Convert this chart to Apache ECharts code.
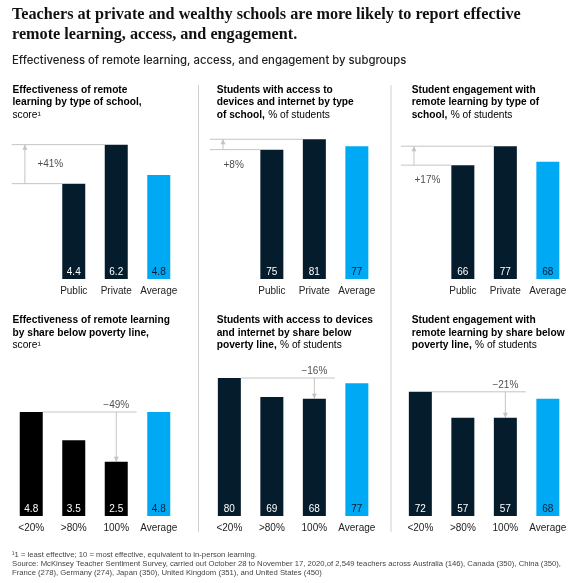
<!DOCTYPE html>
<html><head><meta charset="utf-8">
<script src="https://cdn.jsdelivr.net/npm/echarts@6/dist/echarts.min.js"></script>
<style>html,body{margin:0;padding:0;background:#fff}#c{width:574px;height:583px}</style>
</head><body><div id="c"></div>
<script>
// ---- data ----
const topCategories = ['Public', 'Private', 'Average'];
const bottomCategories = ['<20%', '>80%', '100%', 'Average'];
const effectivenessBySchool = [4.4, 6.2, 4.8];
const accessBySchool = [75, 81, 77];
const engagementBySchool = [66, 77, 68];
const effectivenessByPoverty = [4.8, 3.5, 2.5, 4.8];
const accessByPoverty = [80, 69, 68, 77];
const engagementByPoverty = [72, 57, 57, 68];
const changeLabels = ['+41%', '+8%', '+17%', '\u221249%', '\u221216%', '\u221221%'];
const scoreMax = 10;
const pctMax = 100;

// ---- styles ----
const NAVY = '#051c2c', BLUE = '#00a9f4', BLACK = '#000000', LINE = '#c4c4c4', TEXT = '#222222';
const SANS = '"Liberation Sans", Arial, sans-serif';
const colLeft = [10, 208.1, 399.1];
const rowBottom = [279, 516];
const panelW = 170;
const pxPerMax = { score: 216.7, pct: 172.5 };
const barW = 23;
const halfBar = 0.272;

const panels = [
  { row: 0, col: 0, cats: topCategories, values: effectivenessBySchool, max: scoreMax, kind: 'score', color: NAVY, change: changeLabels[0], textPos: 'between' },
  { row: 0, col: 1, cats: topCategories, values: accessBySchool, max: pctMax, kind: 'pct', color: NAVY, change: changeLabels[1], textPos: 'below' },
  { row: 0, col: 2, cats: topCategories, values: engagementBySchool, max: pctMax, kind: 'pct', color: NAVY, change: changeLabels[2], textPos: 'below' },
  { row: 1, col: 0, cats: bottomCategories, values: effectivenessByPoverty, max: scoreMax, kind: 'score', color: BLACK, change: changeLabels[3] },
  { row: 1, col: 1, cats: bottomCategories, values: accessByPoverty, max: pctMax, kind: 'pct', color: NAVY, change: changeLabels[4] },
  { row: 1, col: 2, cats: bottomCategories, values: engagementByPoverty, max: pctMax, kind: 'pct', color: NAVY, change: changeLabels[5] }
];

const grid = [], xAxis = [], yAxis = [], series = [];

function lineSeries(p, pts) {
  return {
    type: 'line', xAxisIndex: 2 * p + 1, yAxisIndex: p, silent: true, animation: false,
    symbol: 'none', showSymbol: true, lineStyle: { color: LINE, width: 1 }, itemStyle: { color: LINE },
    data: pts, z: 1
  };
}

panels.forEach((pn, p) => {
  const h = pxPerMax[pn.kind];
  grid.push({ left: colLeft[pn.col], width: panelW, top: rowBottom[pn.row] - h, height: h, containLabel: false });
  const cats = pn.row === 0 ? [''].concat(pn.cats) : pn.cats.slice();
  const vals = pn.row === 0 ? ['-'].concat(pn.values) : pn.values.slice();
  xAxis.push({
    type: 'category', gridIndex: p, data: cats,
    axisLine: { show: false }, axisTick: { show: false },
    axisLabel: { interval: 0, margin: 7, fontSize: 10, color: TEXT, fontFamily: SANS }
  });
  xAxis.push({ type: 'value', gridIndex: p, min: -0.5, max: 3.5, show: false });
  yAxis.push({ type: 'value', gridIndex: p, min: 0, max: pn.max, show: false, splitLine: { show: false } });

  series.push({
    type: 'bar', xAxisIndex: 2 * p, yAxisIndex: p, barWidth: barW, animation: false, silent: true, z: 2,
    data: vals.map((v, i) => {
      const isAvg = i === cats.length - 1;
      return {
        value: v,
        itemStyle: { color: isAvg ? BLUE : pn.color },
        label: {
          show: v !== '-', position: 'insideBottom', distance: 2,
          fontSize: 10, fontFamily: SANS, color: isAvg ? NAVY : '#ffffff'
        }
      };
    })
  });

  if (pn.row === 0) {
    const lower = pn.values[0], upper = pn.values[1];
    const arrowX = -0.15, startX = -0.46;
    series.push(lineSeries(p, [[startX, upper], [2 - halfBar, upper]]));
    series.push(lineSeries(p, [[startX, lower], [1 - halfBar, lower]]));
    series.push(lineSeries(p, [
      { value: [arrowX, lower], symbol: 'none' },
      { value: [arrowX, upper], symbol: 'triangle', symbolSize: [5, 5], symbolOffset: [0, 2.5] }
    ]));
    const between = pn.textPos === 'between';
    series.push({
      type: 'scatter', xAxisIndex: 2 * p + 1, yAxisIndex: p, silent: true, animation: false,
      symbolSize: 1, itemStyle: { color: 'transparent' },
      data: [{
        value: [arrowX, between ? (lower + upper) / 2 : lower],
        label: {
          show: true, formatter: pn.change, position: 'right',
          distance: between ? 12 : 0, offset: between ? [0, 0] : [0, 15.5],
          fontSize: 10, fontFamily: SANS, color: TEXT
        }
      }]
    });
  } else {
    const top = pn.values[0], target = pn.values[2];
    series.push(lineSeries(p, [[halfBar, top], [2.48, top]]));
    series.push(lineSeries(p, [
      { value: [2, top], symbol: 'none' },
      { value: [2, target], symbol: 'triangle', symbolSize: [5, 5], symbolRotate: 180, symbolOffset: [0, -2.5] }
    ]));
    series.push({
      type: 'scatter', xAxisIndex: 2 * p + 1, yAxisIndex: p, silent: true, animation: false,
      symbolSize: 1, itemStyle: { color: 'transparent' },
      data: [{
        value: [2, top],
        label: { show: true, formatter: pn.change, position: 'top', distance: 1.5, fontSize: 10, fontFamily: SANS, color: TEXT }
      }]
    });
  }
});

// ---- texts ----
const rich = {
  b: { fontFamily: SANS, fontWeight: 'bold', fontSize: 10.2, lineHeight: 12.3, color: TEXT },
  r: { fontFamily: SANS, fontWeight: 'normal', fontSize: 10.2, lineHeight: 12.3, color: '#444444' }
};
const panelTitles = [
  '{b|Effectiveness of remote}\n{b|learning by type of school,}\n{r|score\u00b9}',
  '{b|Students with access to}\n{b|devices and internet by type}\n{b|of school,} {r|% of students}',
  '{b|Student engagement with}\n{b|remote learning by type of}\n{b|school,} {r|% of students}',
  '{b|Effectiveness of remote learning}\n{b|by share below poverty line,}\n{r|score\u00b9}',
  '{b|Students with access to devices}\n{b|and internet by share below}\n{b|poverty line,} {r|% of students}',
  '{b|Student engagement with}\n{b|remote learning by share below}\n{b|poverty line,} {r|% of students}'
];
const titleX = [12.5, 216.7, 411.7];
const titleY = [84, 314.5];

const graphic = [
  { type: 'text', left: 12, top: 5.3, style: {
      text: 'Teachers at private and wealthy schools are more likely to report effective\nremote learning, access, and engagement.',
      font: 'bold 16.2px "Liberation Serif", "Times New Roman", serif', lineHeight: 20, fill: '#111111' } },
  { type: 'text', left: 12, top: 55.3, style: {
      text: 'Effectiveness of remote learning, access, and engagement by subgroups',
      font: '500 11.3px Inter, Roboto, sans-serif', fill: '#222222' } },
  { type: 'line', shape: { x1: 198.5, y1: 85, x2: 198.5, y2: 532 }, style: { stroke: '#cfcfcf', lineWidth: 1 } },
  { type: 'line', shape: { x1: 391, y1: 85, x2: 391, y2: 532 }, style: { stroke: '#cfcfcf', lineWidth: 1 } },
  { type: 'text', left: 12, top: 550.5, style: {
      text: '\u00b91 = least effective; 10 = most effective, equivalent to in-person learning.\nSource: McKinsey Teacher Sentiment Survey, carried out October 28 to November 17, 2020,of 2,549 teachers across Australia (146), Canada (350), China (350),\nFrance (278), Germany (274), Japan (350), United Kingdom (351), and United States (450)',
      font: '7.7px "Liberation Sans", Arial, sans-serif', lineHeight: 8.8, fill: '#444444' } }
];
panelTitles.forEach((t, i) => {
  graphic.push({ type: 'text', x: titleX[i % 3], y: titleY[Math.floor(i / 3)], style: { text: t, rich: rich } });
});

const chart = echarts.init(document.getElementById('c'), null, { renderer: 'canvas' });
chart.setOption({ animation: false, grid, xAxis, yAxis, series, graphic });
</script></body></html>
